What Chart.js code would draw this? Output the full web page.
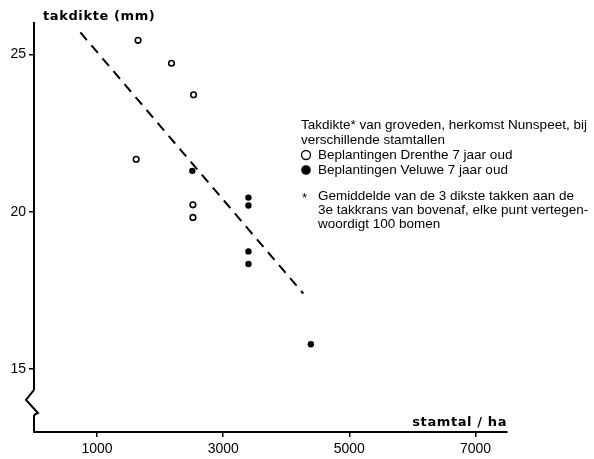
<!DOCTYPE html>
<html>
<head>
<meta charset="utf-8">
<script src="https://cdn.jsdelivr.net/npm/chart.js@4"></script>
<style>
  body { margin: 0; background: #fff; }
  #wrap { width: 594px; height: 459px; }
</style>
</head>
<body>
<div id="wrap"><canvas id="scatterChart" width="594" height="459"></canvas></div>
<script>
// stamtal/ha vs takdikte (mm)
var drentheX = [1650, 2180, 2530, 1620, 2520, 2520];
var drentheY = [25.45, 24.72, 23.72, 21.67, 20.22, 19.82];
var veluweX = [2510, 3400, 3400, 3400, 3400, 4390];
var veluweY = [21.3, 20.45, 20.2, 18.74, 18.34, 15.79];
var trendX = [735, 4270];
var trendY = [25.7, 17.4];
var xTicks = [1000, 3000, 5000, 7000];
var yTicks = [15, 20, 25];

var legendLines = [
  "Takdikte* van groveden, herkomst Nunspeet, bij",
  "verschillende stamtallen",
  "Beplantingen Drenthe 7 jaar oud",
  "Beplantingen Veluwe 7 jaar oud",
  "Gemiddelde van de 3 dikste takken aan de",
  "3e takkrans van bovenaf, elke punt vertegen-",
  "woordigt 100 bomen"
];

function toPoints(xs, ys) {
  return xs.map(function (x, i) { return { x: x, y: ys[i] }; });
}

// axis titles, axis break and the note block
var extras = {
  id: "extras",
  afterDraw: function (chart) {
    var ctx = chart.ctx;
    var ys = chart.scales.y;
    var xs = chart.scales.x;
    var axX = ys.right;
    ctx.save();

    // axis break on the y axis
    var y1 = ys.getPixelForValue(14.34);
    var y2 = ys.getPixelForValue(13.54);
    ctx.fillStyle = "#fff";
    ctx.fillRect(axX - 3, y1, 6, y2 - y1);
    ctx.strokeStyle = "#000";
    ctx.lineWidth = 2;
    ctx.beginPath();
    ctx.moveTo(axX, y1);
    ctx.lineTo(axX - 8, y1 + 10);
    ctx.lineTo(axX + 4, y2 - 2);
    ctx.lineTo(axX, y2);
    ctx.stroke();

    ctx.fillStyle = "#000";
    ctx.textBaseline = "middle";
    ctx.font = "bold 13px 'DejaVu Sans'";
    ctx.letterSpacing = "0.6px";
    ctx.fillText("takdikte (mm)", 43, 17);
    ctx.textAlign = "right";
    ctx.fillText("stamtal / ha", xs.right, 423);
    ctx.textAlign = "left";
    ctx.letterSpacing = "0px";

    // note block
    ctx.font = "13.5px 'Liberation Sans'";
    var lx = 301;
    var rows = [125, 140, 155, 170, 196, 210, 224];
    ctx.fillText(legendLines[0], lx, rows[0]);
    ctx.fillText(legendLines[1], lx, rows[1]);
    ctx.fillText(legendLines[2], 318, rows[2]);
    ctx.fillText(legendLines[3], 318, rows[3]);
    ctx.fillText("*", 302, rows[4] + 2);
    ctx.fillText(legendLines[4], 318, rows[4]);
    ctx.fillText(legendLines[5], 318, rows[5]);
    ctx.fillText(legendLines[6], 318, rows[6]);

    ctx.lineWidth = 1.3;
    ctx.beginPath();
    ctx.arc(306, rows[2], 4.5, 0, Math.PI * 2);
    ctx.stroke();
    ctx.beginPath();
    ctx.arc(306, rows[3], 4.8, 0, Math.PI * 2);
    ctx.fill();
    ctx.restore();
  }
};

var ctx = document.getElementById("scatterChart").getContext("2d");

var myChart = new Chart(ctx, {
  type: "scatter",
  data: {
    datasets: [
      {
        label: "Beplantingen Drenthe 7 jaar oud",
        data: toPoints(drentheX, drentheY),
        pointRadius: 2.8,
        pointBorderWidth: 1.6,
        pointBackgroundColor: "#fff",
        pointBorderColor: "#000",
      },
      {
        label: "Beplantingen Veluwe 7 jaar oud",
        data: toPoints(veluweX, veluweY),
        pointRadius: 3.2,
        pointBorderWidth: 0,
        pointBackgroundColor: "#000",
        pointBorderColor: "#000",
      },
      {
        type: "line",
        label: "trend",
        data: toPoints(trendX, trendY),
        borderColor: "#000",
        borderWidth: 2,
        borderDash: [10, 7],
        pointRadius: 0,
        fill: false,
      },
    ],
  },
  options: {
    responsive: false,
    animation: false,
    layout: { padding: { top: 23, right: 87, left: 0, bottom: 0 } },
    plugins: {
      legend: { display: false },
      tooltip: { enabled: false },
    },
    scales: {
      x: {
        type: "linear",
        min: 0,
        max: 7500,
        afterBuildTicks: function (scale) {
          scale.ticks = xTicks.map(function (v) { return { value: v }; });
        },
        afterFit: function (scale) { scale.height = 27; },
        border: { color: "#000", width: 2 },
        grid: { drawOnChartArea: false, color: "#000", tickLength: 5, lineWidth: 1.5 },
        ticks: {
          color: "#000",
          padding: 4,
          font: { family: "Liberation Sans", size: 14 },
          maxRotation: 0,
          callback: function (value) { return String(value); },
        },
      },
      y: {
        type: "linear",
        min: 13,
        max: 26,
        afterBuildTicks: function (scale) {
          scale.ticks = yTicks.map(function (v) { return { value: v }; });
        },
        afterFit: function (scale) { scale.width = 34; },
        border: { color: "#000", width: 2 },
        grid: { drawOnChartArea: false, color: "#000", tickLength: 5, lineWidth: 1.5 },
        ticks: {
          color: "#000",
          padding: 3,
          font: { family: "Liberation Sans", size: 14 },
          callback: function (value) { return String(value); },
        },
      },
    },
  },
  plugins: [extras],
});
</script>
</body>
</html>
